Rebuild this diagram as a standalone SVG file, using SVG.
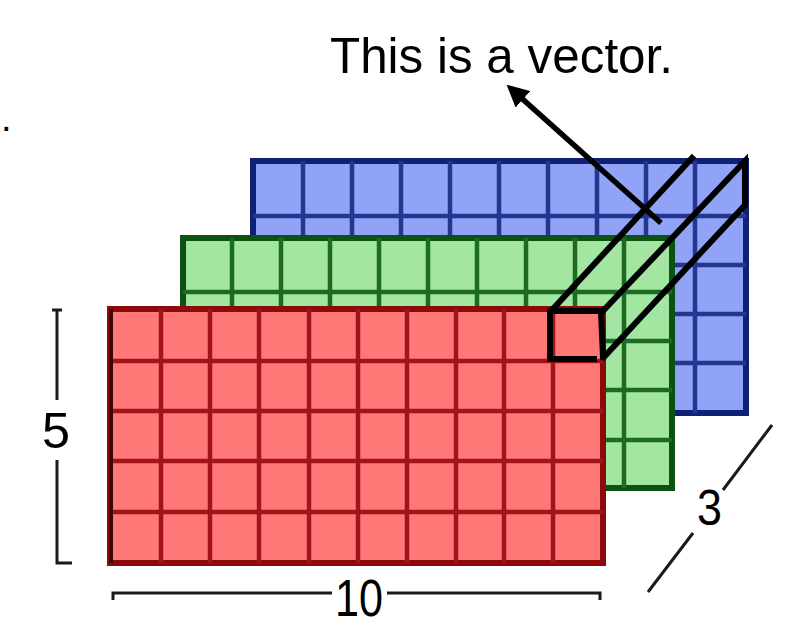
<svg xmlns="http://www.w3.org/2000/svg" width="809" height="639" viewBox="0 0 809 639">
<style>
.txt{font-family:"Liberation Sans",Arial,sans-serif;fill:#000}
.dim{stroke:#1a1a1a;stroke-width:3;fill:none}
.box{stroke:#000;stroke-width:6;fill:none;stroke-linecap:square}
.blue rect{fill:#91a3f7;stroke:#101f78;stroke-width:6}
.blue path{stroke:#243690;stroke-width:4.5;fill:none}
.green rect{fill:#a2e6a2;stroke:#0c5212;stroke-width:6}
.green path{stroke:#1d6b23;stroke-width:4.5;fill:none}
.red rect{fill:#ff7878;stroke:#8e0a0a;stroke-width:6}
.red path{stroke:#a3141a;stroke-width:4.5;fill:none}
</style>
<defs>
<marker id="ah" markerUnits="userSpaceOnUse" markerWidth="22" markerHeight="22" viewBox="0 0 22 22" refX="10" refY="11" orient="auto">
<path d="M0,0 L22,11 L0,22 z" fill="#000"/>
</marker>
</defs>
<rect width="809" height="639" fill="#fff"/>
<text class="txt" x="1" y="131" font-size="38">.</text>
<g id="grid-blue" class="blue">
<rect x="253" y="161" width="493" height="252"/>
<path d="M303,161V413M352,161V413M401,161V413M450,161V413M499,161V413M548,161V413M597,161V413M646,161V413M695,161V413M253,216H746M253,265H746M253,314H746M253,363H746"/>
</g>
<g id="grid-green" class="green">
<rect x="183" y="238" width="489" height="250"/>
<path d="M232,238V488M281,238V488M330,238V488M379,238V488M428,238V488M477,238V488M526,238V488M575,238V488M624,238V488M183,292H672M183,341H672M183,390H672M183,440H672"/>
</g>
<g id="grid-red" class="red">
<rect x="110" y="309" width="493" height="254"/>
<path d="M161,309V563M210,309V563M259,309V563M309,309V563M358,309V563M407,309V563M456,309V563M504,309V563M553,309V563M110,361H603M110,411H603M110,461H603M110,512H603"/>
<line x1="111" y1="309" x2="111" y2="563" stroke="#3a0505" stroke-width="4"/>
</g>
<g id="vector-box">
<path class="box" d="M550,311H600M550,311V359H594M601,312L603,357M551,311L692,158M601,313L745,161V205L604,357"/>
</g>
<g id="connectors">
<line x1="661" y1="223" x2="515.5" y2="92.7" stroke="#000" stroke-width="5.5" marker-end="url(#ah)"/>
</g>
<g id="label-vector">
<text class="txt" x="330" y="73" font-size="50" textLength="343" lengthAdjust="spacingAndGlyphs">This is a vector.</text>
</g>
<g id="dim-5">
<path class="dim" d="M52,310H62M57,310V400M57,460V563H72"/>
<text class="txt" x="42" y="448" font-size="50" textLength="28" lengthAdjust="spacingAndGlyphs">5</text>
</g>
<g id="dim-10">
<path class="dim" d="M113,600V593H332M387,593H600V600"/>
<text class="txt" x="335" y="616" font-size="52" textLength="48" lengthAdjust="spacingAndGlyphs">10</text>
</g>
<g id="dim-3">
<path class="dim" d="M648,592L693,533M723,490L772,425"/>
<text class="txt" x="697" y="525" font-size="50" textLength="25" lengthAdjust="spacingAndGlyphs">3</text>
</g>
</svg>
